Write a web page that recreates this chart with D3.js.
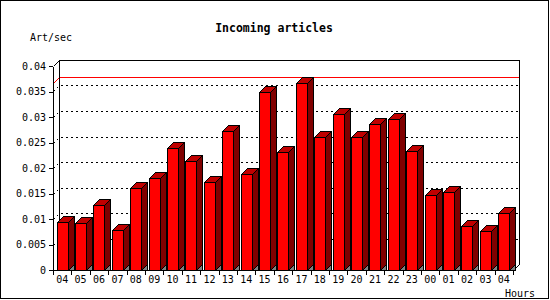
<!DOCTYPE html>
<html>
<head>
<meta charset="utf-8">
<script src="https://cdn.jsdelivr.net/npm/d3@7"></script>
<style>
  body { margin: 0; background: #fff; }
  text { font-family: "DejaVu Sans Mono", monospace; fill: #000; }
</style>
</head>
<body>
<div id="chart"></div>
<script>
// --- Incoming articles per hour ---
const hours = ["04", "05", "06", "07", "08", "09", "10", "11", "12", "13", "14", "15", "16",
    "17", "18", "19", "20", "21", "22", "23", "00", "01", "02", "03", "04"];
const artPerSec = [0.00935, 0.00915, 0.01268, 0.00778, 0.01608, 0.01804, 0.02392, 0.02137,
    0.0172, 0.02725, 0.01882, 0.0349, 0.02307, 0.03667, 0.0260, 0.03059, 0.0260, 0.02863,
    0.02961, 0.02333, 0.01471, 0.01529, 0.00863, 0.00765, 0.01118];
const yTicks = [0, 0.005, 0.01, 0.015, 0.02, 0.025, 0.03, 0.035, 0.04];

const W = 550, H = 300;
const depth = 6;
const plotLeft = 53, plotRight = 513, plotBottom = 270, plotTop = 66;

const svg = d3.select("#chart")
    .append("svg")
    .attr("width", W)
    .attr("height", H)
    .attr("shape-rendering", "crispEdges");

svg.append("rect")
    .attr("x", 0.5).attr("y", 0.5)
    .attr("width", W - 2).attr("height", H - 2)
    .attr("fill", "#fff")
    .attr("stroke", "#000");

const x = d3.scaleBand()
    .domain(d3.range(hours.length))
    .range([plotLeft, plotRight])
    .paddingInner(0.4)
    .paddingOuter(0.2);
const y = d3.scaleLinear().domain([0, 0.04]).range([plotBottom, plotTop]);

const frontX = plotLeft + 0.5, backL = plotLeft + depth + 0.5, backR = plotRight + depth + 0.5;

// gridlines on the back wall (with the dotted run up from the front axis)
svg.append("g")
    .selectAll("path")
    .data(yTicks.filter(t => t > 0 && t < 0.04))
    .join("path")
    .attr("fill", "none")
    .attr("stroke", "#000")
    .attr("stroke-dasharray", "2,3")
    .attr("d", t => {
        const yf = Math.round(y(t)) + 0.5;
        return `M${frontX},${yf}L${backL},${yf - depth}H${backR}`;
    });

// max line
const maxVal = d3.max(artPerSec);
const ym = Math.round(y(maxVal)) + 0.5;
svg.append("path")
    .attr("fill", "none")
    .attr("stroke", "#ff0000")
    .attr("d", `M${frontX},${ym}L${backL},${ym - depth}H${backR}`);

// frame
const yb = plotBottom + 0.5, yt = Math.round(y(0.04)) + 0.5;
svg.append("path")
    .attr("fill", "none")
    .attr("stroke", "#000")
    .attr("d", `M${frontX},${yt}L${backL},${yt - depth}H${backR}V${yb - depth}L${plotRight + 0.5},${yb}` +
        `M${backL},${yt - depth}V${yb - depth}`);

// bars
const bars = svg.append("g").selectAll("g")
    .data(artPerSec)
    .join("g");

bars.each(function(v, i) {
    const g = d3.select(this);
    const x0 = Math.round(x(i)) + 0.5;
    const x1 = x0 + Math.round(x.bandwidth());
    const yv = Math.round(y(v)) + 0.5;
    g.append("path")
        .attr("fill", "#808080")
        .attr("stroke", "#000")
        .attr("d", `M${x1},${yb}L${x1 + depth},${yb - depth}V${yb}Z`);
    g.append("path")
        .attr("fill", "#800000")
        .attr("stroke", "#000")
        .attr("d", `M${x1},${yv}L${x1 + depth},${yv - depth}V${yb - depth}L${x1},${yb}Z`);
    g.append("path")
        .attr("fill", "#c00000")
        .attr("stroke", "#000")
        .attr("d", `M${x0},${yv}L${x0 + depth},${yv - depth}H${x1 + depth}L${x1},${yv}Z`);
    g.append("rect")
        .attr("x", x0).attr("y", yv)
        .attr("width", x1 - x0).attr("height", yb - yv)
        .attr("fill", "#ff0000")
        .attr("stroke", "#000");
});

// front axes
svg.append("path")
    .attr("fill", "none")
    .attr("stroke", "#000")
    .attr("d", `M${frontX},${yt}V${yb}H${plotRight + 0.5}`);

// y axis
const yAxis = d3.axisLeft(y)
    .tickValues(yTicks)
    .tickSize(4)
    .tickPadding(3)
    .tickFormat(d => d === 0 ? "0" : String(+d.toFixed(3)));
svg.append("g")
    .attr("transform", `translate(${plotLeft},0)`)
    .call(yAxis)
    .call(g => g.select(".domain").remove())
    .call(g => g.selectAll("line").attr("stroke", "#000"))
    .call(g => g.selectAll("text").style("font-size", "10px"));

// x axis: boundary ticks + hour labels
const step = x.step();
svg.append("g")
    .selectAll("line")
    .data(d3.range(hours.length + 1))
    .join("line")
    .attr("x1", i => Math.round(plotLeft + i * step) + 0.5)
    .attr("x2", i => Math.round(plotLeft + i * step) + 0.5)
    .attr("y1", plotBottom)
    .attr("y2", plotBottom + 5)
    .attr("stroke", "#000");

svg.append("g")
    .selectAll("text")
    .data(hours)
    .join("text")
    .attr("x", (d, i) => x(i) + x.bandwidth() / 2)
    .attr("y", 283)
    .attr("text-anchor", "middle")
    .style("font-size", "10px")
    .text(d => d);

// titles
svg.append("text")
    .attr("x", 274)
    .attr("y", 32)
    .attr("text-anchor", "middle")
    .style("font-size", "11.5px")
    .style("font-weight", "bold")
    .text("Incoming articles");

svg.append("text")
    .attr("x", 30)
    .attr("y", 41)
    .style("font-size", "10px")
    .text("Art/sec");

svg.append("text")
    .attr("x", 535)
    .attr("y", 297)
    .attr("text-anchor", "end")
    .style("font-size", "10px")
    .text("Hours");
</script>
</body>
</html>
